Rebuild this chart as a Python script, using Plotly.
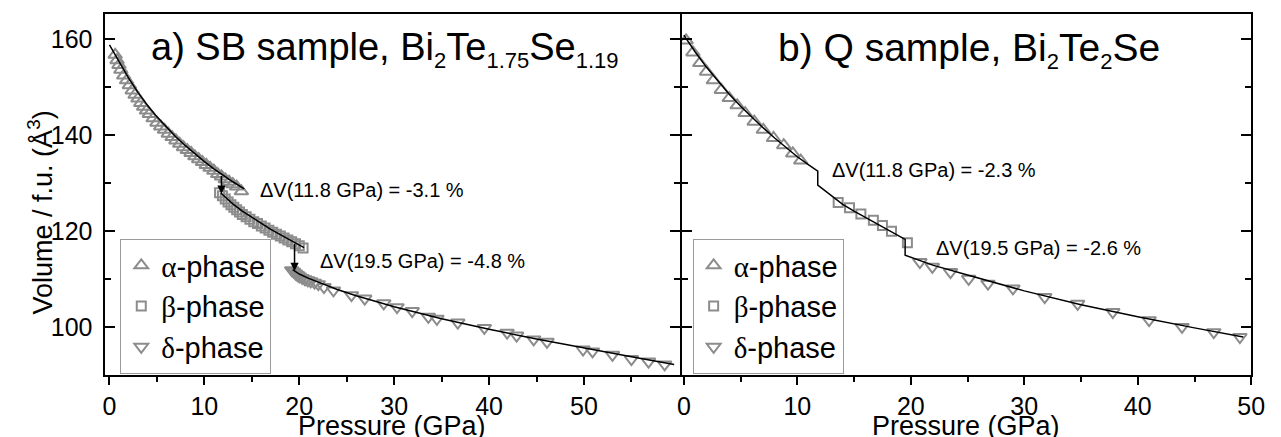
import plotly.graph_objects as go
import numpy as np

# ---------------- data: panel a) SB sample ----------------
a_alpha_P = [0.6, 0.8, 1.0, 1.2, 1.5, 1.8, 2.1, 2.4, 2.7, 3.0, 3.3, 3.6, 3.9, 4.2, 4.6, 5.0, 5.4, 5.8, 6.2,
             6.6, 7.0, 7.4, 7.8, 8.2, 8.6, 9.0, 9.4, 9.8, 10.2, 10.6, 11.0, 11.4, 11.8, 12.2, 12.6, 13.0, 13.4, 13.9]
a_alpha_V = [156.7, 155.6, 154.6, 153.6, 152.4, 151.4, 150.4, 149.3, 148.4, 147.6, 146.7, 145.9, 145.1, 144.4,
             143.5, 142.6, 141.8, 141.1, 140.3, 139.6, 138.9, 138.2, 137.5, 136.9, 136.3, 135.6, 135.0, 134.4,
             133.8, 133.2, 132.6, 131.9, 131.4, 130.8, 130.3, 129.8, 129.3, 128.3]
a_beta_P = [11.6, 11.9, 12.2, 12.5, 12.8, 13.1, 13.4, 13.7, 14.0, 14.4, 14.8, 15.2, 15.6, 16.0, 16.4, 16.8,
            17.2, 17.6, 18.0, 18.4, 18.8, 19.2, 19.6, 20.0, 20.4]
a_beta_V = [128.0, 127.4, 126.7, 126.1, 125.5, 125.0, 124.5, 124.0, 123.5, 123.0, 122.5, 122.0, 121.6, 121.1,
            120.7, 120.2, 119.8, 119.4, 119.0, 118.6, 118.2, 117.8, 117.4, 117.0, 116.5]
a_delta_P = [19.2, 19.4, 19.6, 19.8, 20.0, 20.3, 20.6, 20.9, 21.2, 21.6, 22.0, 22.6, 23.6, 25.5, 26.9, 28.9,
             30.3, 31.9, 33.6, 34.5, 36.7, 39.5, 41.9, 42.9, 44.7, 46.1, 49.9, 50.9, 53.0, 55.0, 56.8, 58.5]
a_delta_V = [111.9, 111.6, 111.2, 110.9, 110.6, 110.3, 110.0, 109.8, 109.6, 109.3, 109.0, 108.4, 107.7, 106.7,
             106.0, 105.0, 104.2, 103.4, 102.2, 101.8, 101.0, 99.9, 98.9, 98.3, 97.5, 97.0, 95.4, 95.0, 94.3,
             93.4, 92.9, 92.3]
# fitted equation-of-state curves
a_fit_alpha_P = [0, 1, 2, 3, 4, 5, 6, 7, 8, 9, 10, 11, 12, 13, 14.2]
a_fit_alpha_V = [158.8, 155.2, 151.9, 148.9, 146.2, 143.8, 141.6, 139.6, 137.8, 136.1, 134.5, 133.0, 131.6,
                 130.3, 128.8]
a_fit_beta_P = [11.7, 12.5, 13, 14, 15, 16, 17, 18, 19, 20, 20.5]
a_fit_beta_V = [128.0, 126.5, 125.7, 124.2, 122.9, 121.6, 120.4, 119.3, 118.2, 117.1, 116.6]
a_fit_delta_P = [19.3, 20, 21, 22, 24, 26, 28, 30, 35, 40, 45, 50, 55, 59.5]
a_fit_delta_V = [112.0, 111.1, 110.2, 109.4, 107.9, 106.6, 105.4, 104.3, 101.8, 99.6, 97.6, 95.7, 93.9, 92.3]
a_transitions = [11.8, 19.5]
a_dV_text = ["\u0394V(11.8 GPa) = -3.1 %", "\u0394V(19.5 GPa) = -4.8 %"]

# ---------------- data: panel b) Q sample ----------------
b_alpha_P = [0.2, 0.8, 1.4, 2.0, 2.6, 3.3, 4.0, 4.7, 5.4, 6.2, 7.0, 7.9, 8.8, 9.6, 10.3]
b_alpha_V = [159.7, 157.2, 155.0, 153.2, 151.4, 149.4, 147.7, 146.2, 144.6, 142.8, 141.1, 139.4, 137.9,
             136.2, 134.7]
b_beta_P = [13.6, 14.6, 15.6, 16.7, 17.5, 18.3, 19.7]
b_beta_V = [126.0, 124.9, 123.6, 122.3, 121.2, 120.0, 117.6]
b_delta_P = [20.8, 21.9, 23.5, 25.1, 26.8, 29.0, 31.8, 34.7, 37.8, 41.0, 43.9, 46.7, 49.0]
b_delta_V = [113.6, 112.6, 111.5, 110.1, 109.1, 108.1, 106.3, 104.9, 103.2, 101.5, 100.1, 99.0, 98.0]
b_fit_P = [0, 1, 2, 3, 4, 5, 6, 7, 8, 9, 10, 11, 11.8, 11.8, 13, 14, 15, 16, 17, 18, 19, 19.5, 19.5,
           22, 25, 30, 35, 40, 45, 49.3]
b_fit_V = [160.8, 157.3, 154.1, 151.2, 148.5, 146.0, 143.7, 141.5, 139.4, 137.4, 135.5, 133.8, 132.5, 129.6,
           127.4, 125.6, 124.2, 122.9, 121.6, 120.3, 119.0, 118.3, 115.0, 112.9, 110.9, 107.6, 104.7, 102.2,
           99.9, 98.0]
b_dV_text = ["\u0394V(11.8 GPa) = -2.3 %", "\u0394V(19.5 GPa) = -2.6 %"]

x_ticks_a = [0, 10, 20, 30, 40, 50]
x_minor_a = [5, 15, 25, 35, 45, 55]
x_ticks_b = [0, 10, 20, 30, 40, 50]
x_minor_b = [5, 15, 25, 35, 45]
y_ticks = [100, 120, 140, 160]
y_minor = [110, 130, 150]

# ---------------- styling ----------------
W, H = 1281, 437
FONT = "Arial, Liberation Sans, sans-serif"
GRAY = "#8c8c8c"


def px(x):
    return x / W


def py(y):
    return 1 - y / H


greek = "<span style='font-family:Liberation Serif, Times New Roman, serif'>{}</span>-phase"
names = [greek.format("\u03b1"), greek.format("\u03b2"), greek.format("\u03b4")]
symbols = ["triangle-up-open", "square-open", "triangle-down-open"]
sizes = [12, 9, 12]

fig = go.Figure()


def add_markers(P, V, k, xa, leg):
    fig.add_trace(go.Scatter(
        x=P, y=V, mode="markers", name=names[k], xaxis=xa, yaxis="y" if xa == "x" else "y2",
        legend=leg,
        marker=dict(symbol=symbols[k], size=sizes[k], color=GRAY, line=dict(color=GRAY, width=2)),
    ))


def add_line(P, V, xa):
    fig.add_trace(go.Scatter(
        x=P, y=V, mode="lines", showlegend=False, xaxis=xa, yaxis="y" if xa == "x" else "y2",
        line=dict(color="black", width=1.5),
    ))


add_markers(a_alpha_P, a_alpha_V, 0, "x", "legend")
add_markers(a_beta_P, a_beta_V, 1, "x", "legend")
add_markers(a_delta_P, a_delta_V, 2, "x", "legend")
add_line(a_fit_alpha_P, a_fit_alpha_V, "x")
add_line(a_fit_beta_P, a_fit_beta_V, "x")
add_line(a_fit_delta_P, a_fit_delta_V, "x")

add_markers(b_alpha_P, b_alpha_V, 0, "x2", "legend2")
add_markers(b_beta_P, b_beta_V, 1, "x2", "legend2")
add_markers(b_delta_P, b_delta_V, 2, "x2", "legend2")
add_line(b_fit_P, b_fit_V, "x2")

# transition arrows in panel a (from the curve before to the curve after)
segs = [(a_fit_alpha_P, a_fit_alpha_V, a_fit_beta_P, a_fit_beta_V),
        (a_fit_beta_P, a_fit_beta_V, a_fit_delta_P, a_fit_delta_V)]
for Pt, (p1, v1, p2, v2) in zip(a_transitions, segs):
    top = float(np.interp(Pt, p1, v1))
    bot = float(np.interp(Pt, p2, v2))
    fig.add_annotation(x=Pt, y=bot, ax=Pt, ay=top, xref="x", yref="y", axref="x", ayref="y",
                       text="", showarrow=True, arrowhead=2, arrowsize=1.1, arrowwidth=1.5,
                       arrowcolor="black", standoff=0)

dom_a = [px(102), px(685)]
dom_b = [px(687), px(1265)]
dom_y = [py(374.5), py(14)]
YR = [90.2, 165.2]

tickfont = dict(family=FONT, size=25, color="black")
common_x = dict(showline=True, linecolor="black", linewidth=2, mirror=True, ticks="outside",
                ticklen=8, tickwidth=2, tickcolor="black", showgrid=False, zeroline=False,
                tickfont=tickfont)
common_y = dict(showline=True, linecolor="black", linewidth=2, mirror="ticks", ticks="inside",
                ticklen=10, tickwidth=2, tickcolor="black", showgrid=False, zeroline=False,
                tickfont=tickfont, range=YR, domain=dom_y, tickvals=y_ticks,
                minor=dict(tickvals=y_minor, ticks="inside", ticklen=6, tickwidth=2, tickcolor="black"))
top_x = dict(side="top", ticks="inside", ticklen=9, tickwidth=2, tickcolor="black",
             showticklabels=False, showline=False, showgrid=False, zeroline=False)

legend_style = dict(xanchor="left", yanchor="top", bordercolor="#9a9a9a", borderwidth=1,
                    bgcolor="rgba(255,255,255,0)", font=dict(family=FONT, size=29),
                    entrywidth=118, entrywidthmode="pixels")

fig.update_layout(
    width=W, height=H, margin=dict(l=0, r=0, t=0, b=0),
    paper_bgcolor="white", plot_bgcolor="white",
    font=dict(family=FONT, color="black"),
    xaxis=dict(**common_x, domain=dom_a, range=[-0.42, 60.1], anchor="y", tickvals=x_ticks_a,
               minor=dict(tickvals=x_minor_a, ticks="outside", ticklen=5, tickwidth=2, tickcolor="black")),
    xaxis2=dict(**common_x, domain=dom_b, range=[-0.18, 50], anchor="y2", tickvals=x_ticks_b,
                minor=dict(tickvals=x_minor_b, ticks="outside", ticklen=5, tickwidth=2, tickcolor="black")),
    xaxis3=dict(**top_x, overlaying="x", anchor="y", range=[-0.42, 60.1], tickvals=x_ticks_a),
    xaxis4=dict(**top_x, overlaying="x2", anchor="y2", range=[-0.18, 50], tickvals=x_ticks_b),
    yaxis=dict(**common_y, anchor="x", ticklabelstandoff=6),
    yaxis2=dict(**common_y, anchor="x2", showticklabels=False),
    legend=dict(**legend_style, x=px(117), y=py(239)),
    legend2=dict(**legend_style, x=px(698), y=py(239)),
    showlegend=True,
)

SUB = "<sub><span style='font-size:22px'>{}</span></sub>"
# titles inside panels
fig.add_annotation(text="a) SB sample, Bi" + SUB.format("2") + "Te" + SUB.format("1.75") + "Se" + SUB.format("1.19"),
                   x=px(146), y=py(50), xref="paper", yref="paper", xanchor="left", yanchor="middle",
                   showarrow=False, font=dict(family=FONT, size=38, color="black"))
fig.add_annotation(text="b) Q sample, Bi" + SUB.format("2") + "Te" + SUB.format("2") + "Se",
                   x=px(783), y=py(50), xref="paper", yref="paper", xanchor="left", yanchor="middle",
                   showarrow=False, font=dict(family=FONT, size=39, color="black"))

# delta-V labels
dv_pos_a = [(257, 190), (318, 261)]
dv_pos_b = [(837, 170), (943, 248)]
for t, (xx, yy) in zip(a_dV_text, dv_pos_a):
    fig.add_annotation(text=t, x=px(xx), y=py(yy), xref="paper", yref="paper", xanchor="left",
                       yanchor="middle", showarrow=False, font=dict(family=FONT, size=20, color="black"))
for t, (xx, yy) in zip(b_dV_text, dv_pos_b):
    fig.add_annotation(text=t, x=px(xx), y=py(yy), xref="paper", yref="paper", xanchor="left",
                       yanchor="middle", showarrow=False, font=dict(family=FONT, size=20, color="black"))

# axis titles
fig.add_annotation(text="Volume / f.u. (\u00c5<sup>3</sup>)", x=px(36), y=py(212), xref="paper",
                   yref="paper", xanchor="center", yanchor="middle", textangle=-90, showarrow=False,
                   font=dict(family=FONT, size=27, color="black"))
fig.add_annotation(text="Pressure (GPa)", x=px(393), y=py(426), xref="paper", yref="paper",
                   xanchor="center", yanchor="middle", showarrow=False,
                   font=dict(family=FONT, size=27, color="black"))
fig.add_annotation(text="Pressure (GPa)", x=px(975), y=py(426), xref="paper", yref="paper",
                   xanchor="center", yanchor="middle", showarrow=False,
                   font=dict(family=FONT, size=27, color="black"))

fig.write_html("out.html")
